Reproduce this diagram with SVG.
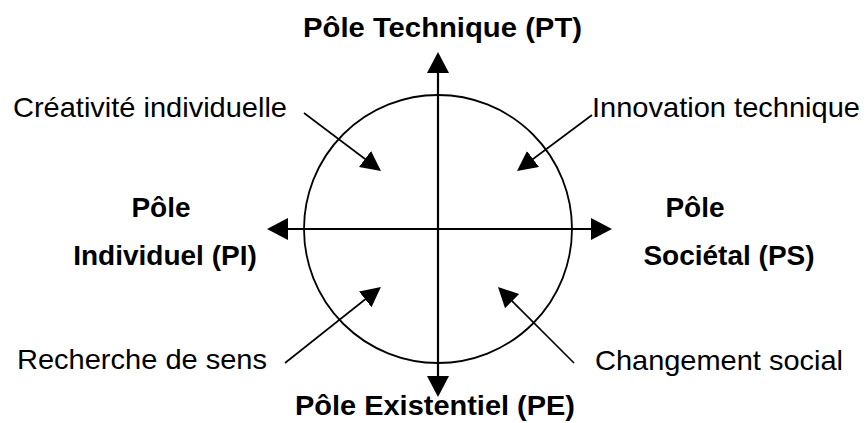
<svg xmlns="http://www.w3.org/2000/svg" width="868" height="423" viewBox="0 0 868 423">
<style>
.b{font-family:"Liberation Sans",Arial,sans-serif;font-weight:bold;font-size:28px;fill:#000}
.r{font-family:"Liberation Sans",Arial,sans-serif;font-size:28.5px;fill:#000}
.ax{stroke:#000;stroke-width:2.2;fill:none}
.dg{stroke:#000;stroke-width:1.6;fill:none}
</style>
<defs>
<marker id="ah" markerUnits="userSpaceOnUse" markerWidth="22" markerHeight="22" refX="16" refY="11" orient="auto-start-reverse" viewBox="0 0 22 22"><path d="M0,0 L21,11 L0,22 z" fill="#000"/></marker>
<marker id="dh" markerUnits="userSpaceOnUse" markerWidth="21" markerHeight="21" refX="15" refY="10" orient="auto" viewBox="0 0 21 21"><path d="M0,0 L20,10 L0,20 z" fill="#000"/></marker>
</defs>
<g id="circle"><circle cx="438" cy="229" r="134" fill="none" stroke="#000" stroke-width="1.8"/></g>
<g id="connectors">
<line class="ax" x1="438" y1="57" x2="438" y2="392" marker-start="url(#ah)" marker-end="url(#ah)"/>
<line class="ax" x1="272" y1="229" x2="607" y2="229" marker-start="url(#ah)" marker-end="url(#ah)"/>
<line class="dg" x1="304" y1="113" x2="377" y2="168" marker-end="url(#dh)"/>
<line class="dg" x1="592" y1="115" x2="521" y2="168" marker-end="url(#dh)"/>
<line class="dg" x1="285" y1="363" x2="377" y2="290" marker-end="url(#dh)"/>
<line class="dg" x1="574" y1="363" x2="501.5" y2="290.5" marker-end="url(#dh)"/>
</g>
<g id="pt"><text class="b" x="303" y="37" textLength="279" lengthAdjust="spacingAndGlyphs">Pôle Technique (PT)</text></g>
<g id="pe"><text class="b" x="295" y="415" textLength="280" lengthAdjust="spacingAndGlyphs">Pôle Existentiel (PE)</text></g>
<g id="pi"><text class="b" x="161" y="217" text-anchor="middle">Pôle</text><text class="b" x="165" y="265" text-anchor="middle">Individuel (PI)</text></g>
<g id="ps"><text class="b" x="695" y="217" text-anchor="middle">Pôle</text><text class="b" x="729" y="265" text-anchor="middle">Sociétal (PS)</text></g>
<g id="ci"><text class="r" x="13" y="117" textLength="274" lengthAdjust="spacingAndGlyphs">Créativité individuelle</text></g>
<g id="it"><text class="r" x="592" y="117" textLength="268" lengthAdjust="spacingAndGlyphs">Innovation technique</text></g>
<g id="rs"><text class="r" x="17" y="369" textLength="250" lengthAdjust="spacingAndGlyphs">Recherche de sens</text></g>
<g id="cs"><text class="r" x="595" y="370" textLength="248" lengthAdjust="spacingAndGlyphs">Changement social</text></g>
</svg>
